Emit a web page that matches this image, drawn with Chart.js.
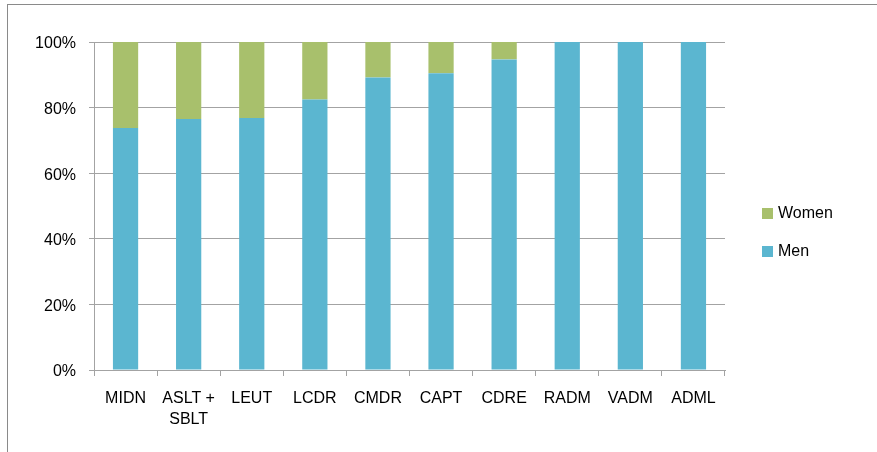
<!DOCTYPE html>
<html>
<head>
<meta charset="utf-8">
<script src="https://cdn.jsdelivr.net/npm/chart.js@4"></script>
<style>
    html, body { margin: 0; padding: 0; background: #ffffff; }
    #frame {
        position: absolute; left: 7px; top: 4px; width: 900px; height: 460px;
        border-left: 1px solid #8a8a8a; border-top: 1px solid #8a8a8a;
    }
    #chartBox { position: absolute; left: 0; top: 0; width: 877px; height: 452px; }
</style>
</head>
<body>
<div id="frame"></div>
<div id="chartBox"><canvas id="rankChart"></canvas></div>
<script>
// Aandeel mannen en vrouwen per rang, in procenten.
var ranks = ["MIDN", ["ASLT +", "SBLT"], "LEUT", "LCDR", "CMDR", "CAPT", "CDRE", "RADM", "VADM", "ADML"];
var menShare = [73.8, 76.5, 76.8, 82.5, 89.2, 90.5, 94.7, 100, 100, 100];
var womenShare = [26.2, 23.5, 23.2, 17.5, 10.8, 9.5, 5.3, 0, 0, 0];
var yTicks = [0, 20, 40, 60, 80, 100];

var menColor = "#5bb6d0";
var womenColor = "#a8c06c";
var gridColor = "#a3a3a3";

document.addEventListener("DOMContentLoaded", function () {
    setupRankChart();
});

function setupRankChart() {
    var canvas = document.getElementById("rankChart");

    if (canvas == null || typeof Chart === "undefined") {
        return;
    }

    new Chart(canvas, {
        type: "bar",
        data: {
            labels: ranks,
            datasets: [
                createDataset("Men", menShare, menColor),
                createDataset("Women", womenShare, womenColor)
            ]
        },
        options: createChartOptions(),
        plugins: [sideLegend]
    });
}

function createDataset(label, values, color) {
    return {
        label: label,
        data: values,
        backgroundColor: color,
        borderWidth: 0,
        barPercentage: 0.4,
        categoryPercentage: 1
    };
}

// Legenda rechts, zoals in het origineel: Women boven, Men onder.
var sideLegend = {
    id: "sideLegend",
    afterDraw: function (chart) {
        var ctx = chart.ctx;
        var area = chart.chartArea;
        var items = chart.data.datasets.slice().reverse();
        var x = area.right + 37;
        var middle = chart.height / 2 + 7;
        var step = 38;

        ctx.save();
        ctx.font = "16px 'Liberation Sans', Arial, sans-serif";
        ctx.textBaseline = "middle";
        ctx.textAlign = "left";

        for (var i = 0; i < items.length; i++) {
            var y = middle - step / 2 + i * step;
            ctx.fillStyle = items[i].backgroundColor;
            ctx.fillRect(x, y - 6, 11, 11);
            ctx.fillStyle = "#000000";
            ctx.fillText(items[i].label, x + 16, y);
        }

        ctx.restore();
    }
};

function createChartOptions() {
    var tickFont = { family: "'Liberation Sans', Arial, sans-serif", size: 16, lineHeight: 1.3 };

    return {
        responsive: true,
        maintainAspectRatio: false,
        animation: false,
        layout: {
            padding: { top: 42, right: 152, bottom: 0, left: 0 }
        },
        plugins: {
            legend: { display: false },
            tooltip: { enabled: false }
        },
        scales: {
            x: {
                stacked: true,
                grid: {
                    offset: true,
                    drawOnChartArea: false,
                    drawTicks: true,
                    tickLength: 6,
                    color: gridColor
                },
                border: { display: true, color: gridColor },
                ticks: {
                    color: "#000000",
                    font: tickFont,
                    padding: 12,
                    maxRotation: 0,
                    autoSkip: false
                },
                afterFit: function (scale) {
                    scale.height = 82;
                }
            },
            y: {
                stacked: true,
                min: 0,
                max: 100,
                afterBuildTicks: function (scale) {
                    scale.ticks = yTicks.map(function (v) {
                        return { value: v };
                    });
                },
                grid: {
                    color: gridColor,
                    lineWidth: 1,
                    tickLength: 5
                },
                border: { display: true, color: gridColor },
                ticks: {
                    color: "#000000",
                    font: tickFont,
                    padding: 13,
                    labelOffset: 2,
                    callback: function (value) {
                        return value + "%";
                    }
                },
                afterFit: function (scale) {
                    scale.width = 94;
                }
            }
        }
    };
}
</script>
</body>
</html>
